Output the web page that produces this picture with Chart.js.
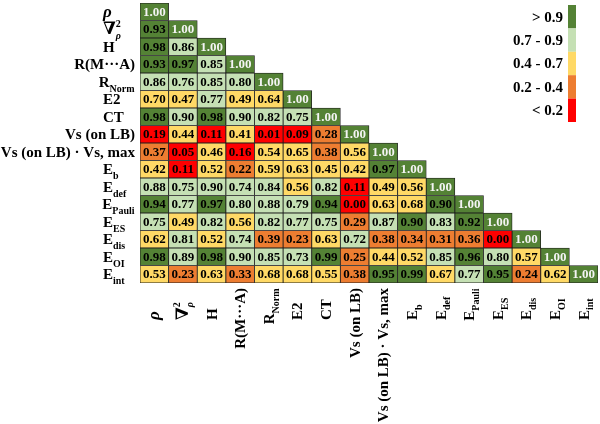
<!DOCTYPE html>
<html><head><meta charset="utf-8">
<script src="https://cdn.jsdelivr.net/npm/chart.js@4.4.0/dist/chart.umd.min.js"></script>
<style>html,body{margin:0;padding:0;background:#fff}#wrap{width:600px;height:424px;position:relative}</style>
</head><body><div id="wrap"><canvas id="c"></canvas></div>
<script>
// Categories (markup: _{..} subscript, ^{..} superscript)
const categories = ['ρ','∇^{2}_{ρ}','H','R(M···A)','R_{Norm}','E2','CT','Vs (on LB)','Vs (on LB) · Vs, max','E_{b}','E_{def}','E_{Pauli}','E_{ES}','E_{dis}','E_{OI}','E_{int}'];

// Lower-triangular correlation rows
const rowRho    = [1.00];
const rowLap    = [0.93, 1.00];
const rowH      = [0.98, 0.86, 1.00];
const rowRMA    = [0.93, 0.97, 0.85, 1.00];
const rowRNorm  = [0.86, 0.76, 0.85, 0.80, 1.00];
const rowE2     = [0.70, 0.47, 0.77, 0.49, 0.64, 1.00];
const rowCT     = [0.98, 0.90, 0.98, 0.90, 0.82, 0.75, 1.00];
const rowVs     = [0.19, 0.44, 0.11, 0.41, 0.01, 0.09, 0.28, 1.00];
const rowVsMax  = [0.37, 0.05, 0.46, 0.16, 0.54, 0.65, 0.38, 0.56, 1.00];
const rowEb     = [0.42, 0.11, 0.52, 0.22, 0.59, 0.63, 0.45, 0.42, 0.97, 1.00];
const rowEdef   = [0.88, 0.75, 0.90, 0.74, 0.84, 0.56, 0.82, 0.11, 0.49, 0.56, 1.00];
const rowEPauli = [0.94, 0.77, 0.97, 0.80, 0.88, 0.79, 0.94, 0.00, 0.63, 0.68, 0.904, 1.00];
const rowEES    = [0.75, 0.49, 0.82, 0.56, 0.82, 0.77, 0.75, 0.29, 0.87, 0.904, 0.83, 0.92, 1.00];
const rowEdis   = [0.62, 0.81, 0.52, 0.74, 0.39, 0.23, 0.63, 0.72, 0.38, 0.34, 0.31, 0.36, 0.00, 1.00];
const rowEOI    = [0.98, 0.89, 0.98, 0.90, 0.85, 0.73, 0.99, 0.25, 0.44, 0.52, 0.85, 0.96, 0.80, 0.57, 1.00];
const rowEint   = [0.53, 0.23, 0.63, 0.33, 0.68, 0.68, 0.55, 0.38, 0.95, 0.99, 0.67, 0.77, 0.95, 0.24, 0.62, 1.00];

// Legend classes
const legendLabels = ['> 0.9', '0.7 - 0.9', '0.4 - 0.7', '0.2 - 0.4', '< 0.2'];
const legendColors = ['#548235', '#C5E0B4', '#FFD966', '#ED7D31', '#FF0000'];

const rows = [rowRho,rowLap,rowH,rowRMA,rowRNorm,rowE2,rowCT,rowVs,rowVsMax,rowEb,rowEdef,rowEPauli,rowEES,rowEdis,rowEOI,rowEint];

function colorFor(v){
  if (v > 0.9) return legendColors[0];
  if (v > 0.7) return legendColors[1];
  if (v >= 0.4) return legendColors[2];
  if (v >= 0.2) return legendColors[3];
  return legendColors[4];
}

const cells = [];
rows.forEach((row, r) => row.forEach((v, c) => cells.push({x: categories[c], y: [r, r + 1], v: v, diag: r === c})));

const FONT = '"Liberation Serif","Times New Roman","DejaVu Serif",serif';
function parseRich(s){
  const segs = []; let i = 0, buf = '';
  const flush = () => { if (buf) { segs.push({t: buf, k: 'n'}); buf = ''; } };
  while (i < s.length) {
    if ((s[i] === '_' || s[i] === '^') && s[i+1] === '{') {
      flush(); const j = s.indexOf('}', i);
      segs.push({t: s.slice(i+2, j), k: s[i] === '_' ? 'sub' : 'sup'}); i = j + 1;
    } else { buf += s[i]; i++; }
  }
  flush(); return segs;
}
function fontFor(seg, size){
  let sz = seg.k === 'n' ? size : Math.round(size * 0.68);
  if (seg.k === 'n' && (seg.t === 'ρ' || seg.t === '∇')) sz = Math.round(size * 1.12);
  const it = seg.t === 'ρ' ? 'italic ' : '';
  return it + 'bold ' + sz + 'px ' + FONT;
}
function layoutRich(ctx, s, size){
  const segs = parseRich(s); let x = 0; const out = [];
  for (let k = 0; k < segs.length; k++) {
    const g = segs[k]; const f = fontFor(g, size); ctx.font = f;
    const w = ctx.measureText(g.t).width;
    const dy = g.k === 'sub' ? size * 0.32 : g.k === 'sup' ? -size * 0.5 : 0;
    out.push({t: g.t, font: f, x: x, dy: dy});
    if (g.k === 'sup' && segs[k+1] && segs[k+1].k === 'sub') {
      const g2 = segs[k+1]; const f2 = fontFor(g2, size); ctx.font = f2;
      const w2 = ctx.measureText(g2.t).width;
      out.push({t: g2.t, font: f2, x: x, dy: size * 0.32});
      x += Math.max(w, w2) + 0.5; k++; continue;
    }
    x += w + (g.k !== 'n' ? 0.5 : 0);
  }
  return {parts: out, width: x};
}
function drawRich(ctx, lay, x0, yBase){
  lay.parts.forEach(p => { ctx.font = p.font; ctx.fillText(p.t, x0 + p.x, yBase + p.dy); });
}

const labelPlugin = {
  id: 'labels',
  afterDatasetsDraw(chart){
    const ctx = chart.ctx, xs = chart.scales.x, ys = chart.scales.y;
    ctx.save();
    // values in cells
    const meta = chart.getDatasetMeta(0);
    ctx.textAlign = 'center'; ctx.textBaseline = 'middle';
    ctx.font = 'bold 13px ' + FONT;
    meta.data.forEach((el, i) => {
      const raw = chart.data.datasets[0].data[i];
      const p = el.getProps(['x', 'y', 'base'], true);
      ctx.fillStyle = raw.diag ? '#f4f4f4' : '#000000';
      ctx.fillText(raw.v.toFixed(2), p.x, (p.y + p.base) / 2 + 0.5);
    });
    // y labels
    ctx.textAlign = 'left'; ctx.textBaseline = 'alphabetic'; ctx.fillStyle = '#000';
    categories.forEach((s, i) => {
      const cy = ys.getPixelForValue(i + 0.5);
      const lay = layoutRich(ctx, s, 15);
      const x0 = Math.min(103, 135 - lay.width);
      drawRich(ctx, lay, x0, cy + 5);
    });
    // x labels (rotated)
    categories.forEach((s, j) => {
      const cx = xs.getPixelForValue(j);
      const lay = layoutRich(ctx, s, 15);
      const start = Math.max(320, 288 + lay.width);
      ctx.save(); ctx.translate(cx, start); ctx.rotate(-Math.PI / 2);
      drawRich(ctx, lay, 0, 5);
      ctx.restore();
    });
    // legend
    const top = 5, segH = 23.4;
    legendLabels.forEach((t, k) => {
      ctx.fillStyle = legendColors[k];
      ctx.fillRect(568, top + k * segH, 8, segH);
      ctx.fillStyle = '#000'; ctx.font = 'bold 15px ' + FONT;
      ctx.textAlign = 'right'; ctx.textBaseline = 'middle';
      ctx.fillText(t, 563, top + k * segH + segH / 2 + 1);
    });
    ctx.restore();
  }
};

new Chart(document.getElementById('c'), {
  type: 'bar',
  data: {
    labels: categories,
    datasets: [{
      data: cells,
      backgroundColor: c => c.raw ? colorFor(c.raw.v) : '#fff',
      borderColor: '#1e1e1e',
      borderWidth: 0.8,
      borderSkipped: false,
      barPercentage: 1,
      categoryPercentage: 1
    }]
  },
  options: {
    responsive: true,
    maintainAspectRatio: false,
    animation: false,
    layout: {padding: {left: 140, right: 2, top: 3, bottom: 141}},
    plugins: {legend: {display: false}, tooltip: {enabled: false}},
    scales: {
      x: {type: 'category', display: false, offset: true},
      y: {type: 'linear', display: false, min: 0, max: 16, reverse: true}
    }
  },
  plugins: [labelPlugin]
});
</script>
</body></html>
